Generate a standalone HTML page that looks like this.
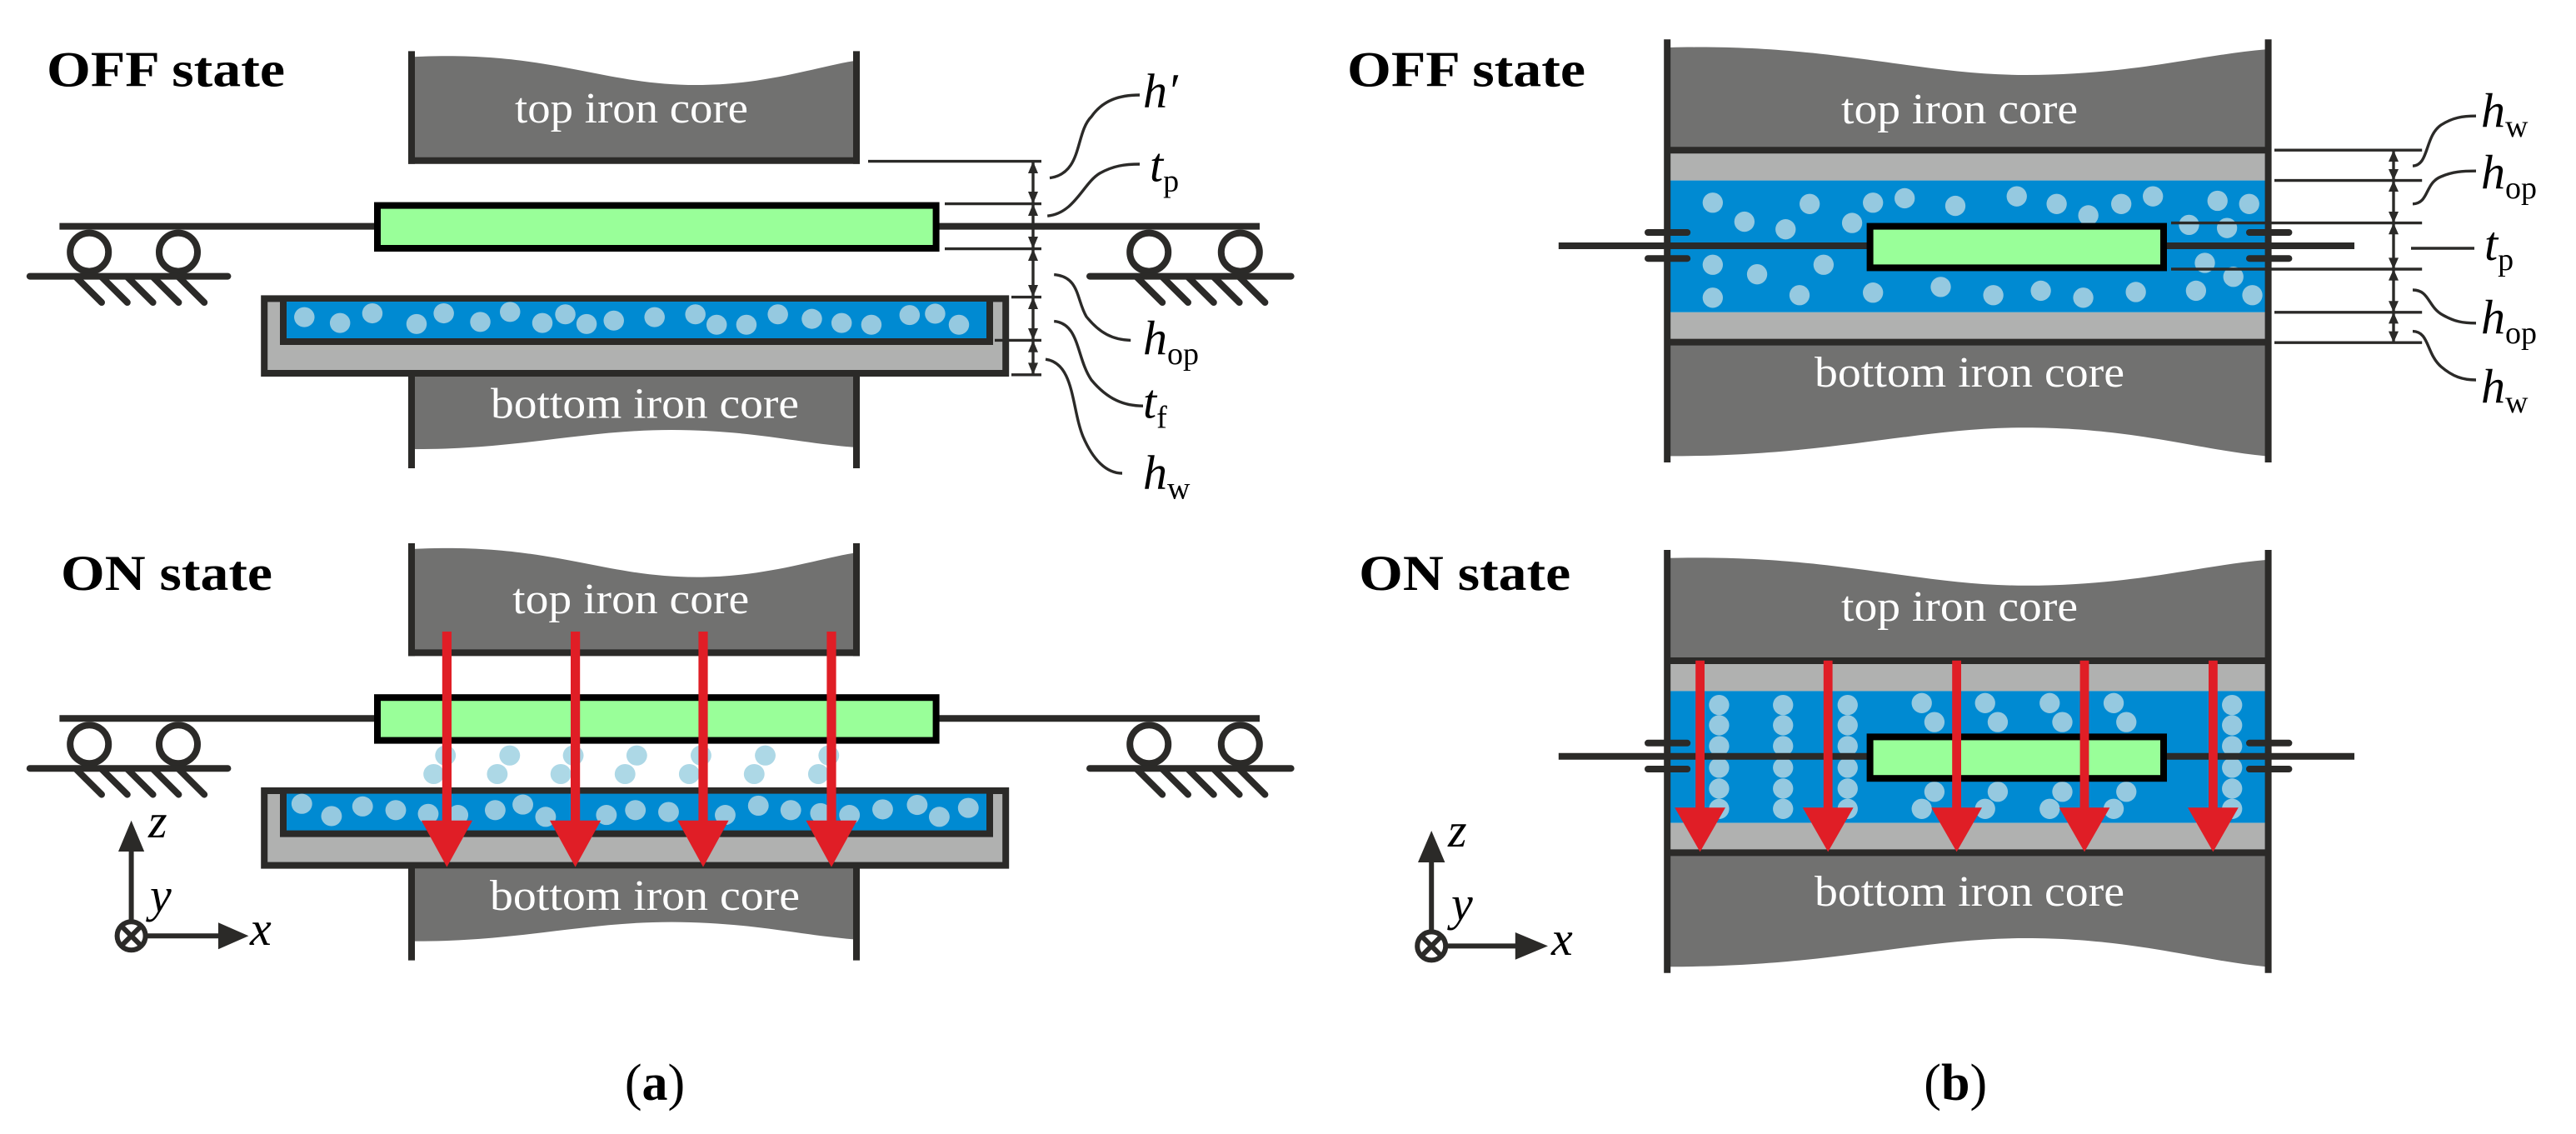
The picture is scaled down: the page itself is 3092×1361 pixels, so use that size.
<!DOCTYPE html>
<html><head><meta charset="utf-8"><style>
html,body{margin:0;padding:0;background:#fff}
svg{display:block}
.lab{font-family:"Liberation Serif",serif;fill:#fff;font-size:26px}
.bold{font-family:"Liberation Serif",serif;font-weight:bold;fill:#000;font-size:30px}
.m{font-family:"Liberation Serif",serif;font-style:italic;fill:#000;font-size:29px}
.s{font-family:"Liberation Serif",serif;font-style:normal;font-size:19px}
</style></head><body>
<svg width="3092" height="1361" viewBox="0 0 1546 680.5" xmlns="http://www.w3.org/2000/svg">
<defs>
<g id="astruct">
 <path d="M247,34.2 C330,30 360,51 418,51 C460,51 490,40 514,36.3 L514,96 L247,96 Z" fill="#717170"/>
 <line x1="247" y1="30.7" x2="247" y2="98.4" stroke="#2b2a28" stroke-width="4"/>
 <line x1="514" y1="30.7" x2="514" y2="98.4" stroke="#2b2a28" stroke-width="4"/>
 <line x1="245" y1="96.4" x2="516" y2="96.4" stroke="#2b2a28" stroke-width="4"/>
 <line x1="35.7" y1="135.8" x2="756" y2="135.8" stroke="#2b2a28" stroke-width="4"/>
 <rect x="226.5" y="123.3" width="335.3" height="25.7" fill="#99ff99" stroke="#000" stroke-width="4"/>
 <g fill="#fff" stroke="#2b2a28" stroke-width="4">
  <circle cx="53.6" cy="151.3" r="11.5"/><circle cx="107" cy="151.3" r="11.5"/>
  <circle cx="689.6" cy="151.3" r="11.5"/><circle cx="744.4" cy="151.3" r="11.5"/>
 </g>
 <g stroke="#2b2a28" stroke-width="4" stroke-linecap="round">
  <line x1="17.9" y1="165.8" x2="136.7" y2="165.8"/><line x1="654" y1="165.8" x2="774.8" y2="165.8"/>
  <line x1="45.4" y1="166" x2="61" y2="181.5"/><line x1="60.8" y1="166" x2="76.4" y2="181.5"/>
  <line x1="76.2" y1="166" x2="91.8" y2="181.5"/><line x1="91.6" y1="166" x2="107.2" y2="181.5"/>
  <line x1="107" y1="166" x2="122.6" y2="181.5"/>
  <line x1="682" y1="166" x2="697.6" y2="181.5"/><line x1="697.4" y1="166" x2="713" y2="181.5"/>
  <line x1="712.8" y1="166" x2="728.4" y2="181.5"/><line x1="728.2" y1="166" x2="743.8" y2="181.5"/>
  <line x1="743.6" y1="166" x2="759.2" y2="181.5"/>
 </g>
 <rect x="158.6" y="179.2" width="445" height="44.8" fill="#b0b1b0" stroke="#2b2a28" stroke-width="4"/>
 <rect x="172" y="181" width="420" height="22.5" fill="#008ad2"/>
 <path d="M170,179 L170,205 L594,205 L594,179" fill="none" stroke="#2b2a28" stroke-width="4"/>
 <path d="M247,226 L514,226 L514,268.5 C480,266 450,258 403,258 C350,258 310,270 247,269.5 Z" fill="#717170"/>
 <line x1="247" y1="224" x2="247" y2="281" stroke="#2b2a28" stroke-width="4"/>
 <line x1="514" y1="224" x2="514" y2="281" stroke="#2b2a28" stroke-width="4"/>
</g>
<g id="bbg">
 <path d="M1002,28.5 C1100,26 1150,45 1216,45 C1280,45 1320,33 1360,29.6 L1360,92 L1002,92 Z" fill="#717170"/>
 <rect x="1002" y="92" width="358" height="16.3" fill="#b0b1b0"/>
 <rect x="1002" y="108.3" width="358" height="79.1" fill="#008ad2"/>
 <rect x="1002" y="187.4" width="358" height="16" fill="#b0b1b0"/>
 <path d="M1002,205 L1360,205 L1360,273.7 C1320,270 1280,256.6 1216,256.6 C1150,256.6 1100,273.7 1002,273.7 Z" fill="#717170"/>
 <line x1="1000.6" y1="90.1" x2="1361.3" y2="90.1" stroke="#2b2a28" stroke-width="4"/>
 <line x1="1000.6" y1="205.3" x2="1361.3" y2="205.3" stroke="#2b2a28" stroke-width="4"/>
 <line x1="1000.6" y1="23.6" x2="1000.6" y2="277.5" stroke="#2b2a28" stroke-width="4"/>
 <line x1="1361.3" y1="23.6" x2="1361.3" y2="277.5" stroke="#2b2a28" stroke-width="4"/>
</g>
<g id="bfg">
 <line x1="935.4" y1="147.5" x2="1413" y2="147.5" stroke="#2b2a28" stroke-width="4"/>
 <rect x="1122.3" y="135.8" width="176.2" height="24.9" fill="#99ff99" stroke="#000" stroke-width="4"/>
 <g stroke="#2b2a28" stroke-width="4" stroke-linecap="round">
  <line x1="989" y1="139.5" x2="1012.6" y2="139.5"/><line x1="989" y1="155.1" x2="1012.6" y2="155.1"/>
  <line x1="1350" y1="139.5" x2="1373.7" y2="139.5"/><line x1="1350" y1="155.1" x2="1373.7" y2="155.1"/>
 </g>
</g>
</defs>

<!-- (a) OFF -->
<use href="#astruct"/>
<g transform="scale(0.5102,0.2073)" fill="#95c9e0">
<ellipse cx="358" cy="918" rx="12" ry="29"/><ellipse cx="400" cy="935" rx="12" ry="29"/><ellipse cx="438" cy="907" rx="12" ry="29"/><ellipse cx="490" cy="938" rx="12" ry="29"/><ellipse cx="522" cy="907" rx="12" ry="29"/><ellipse cx="565" cy="932" rx="12" ry="29"/><ellipse cx="600" cy="903" rx="12" ry="29"/><ellipse cx="638" cy="935" rx="12" ry="29"/><ellipse cx="665" cy="910" rx="12" ry="29"/><ellipse cx="690" cy="938" rx="12" ry="29"/><ellipse cx="722" cy="928" rx="12" ry="29"/><ellipse cx="770" cy="918" rx="12" ry="29"/><ellipse cx="818" cy="910" rx="12" ry="29"/><ellipse cx="843" cy="940" rx="12" ry="29"/><ellipse cx="878" cy="940" rx="12" ry="29"/><ellipse cx="915" cy="910" rx="12" ry="29"/><ellipse cx="955" cy="923" rx="12" ry="29"/><ellipse cx="990" cy="935" rx="12" ry="29"/><ellipse cx="1025" cy="940" rx="12" ry="29"/><ellipse cx="1070" cy="912" rx="12" ry="29"/><ellipse cx="1100" cy="908" rx="12" ry="29"/><ellipse cx="1128" cy="940" rx="12" ry="29"/>
</g>
<text class="lab" x="379" y="73.6" text-anchor="middle" textLength="140" lengthAdjust="spacingAndGlyphs">top iron core</text>
<text class="lab" x="387" y="250.8" text-anchor="middle" textLength="185" lengthAdjust="spacingAndGlyphs">bottom iron core</text>
<text class="bold" x="28" y="51.8" textLength="143" lengthAdjust="spacingAndGlyphs">OFF state</text>
<!-- dims a -->
<g stroke="#2b2a28" stroke-width="1.7" fill="none">
 <line x1="521" y1="96.8" x2="625" y2="96.8"/>
 <line x1="567" y1="122.3" x2="625" y2="122.3"/>
 <line x1="567" y1="149.3" x2="625" y2="149.3"/>
 <line x1="607" y1="178.3" x2="625" y2="178.3"/>
 <line x1="597" y1="204.2" x2="625" y2="204.2"/>
 <line x1="607" y1="224.9" x2="625" y2="224.9"/>
 <line x1="620" y1="96.8" x2="620" y2="224.9"/>
 <path d="M630,106.8 C650,104 645,80 655,70 C662,60 672,57 684,57"/>
 <path d="M628.6,129.6 C645,128 650,110 660,104 C668,99.5 675,98.5 684,98.5"/>
 <path d="M632.6,164.8 C648,166 646,180 652,190 C660,200 668,204 678.6,204.2"/>
 <path d="M632.6,192.8 C648,194 646,215 655,228 C665,240 675,243.6 686,243.6"/>
 <path d="M627.5,215.6 C645,218 643,245 650,262 C656,276 664,284 673.5,284"/>
</g>
<g fill="#2b2a28">
 <polygon points="617,104 623,104 620,96.8"/><polygon points="617,115 623,115 620,122.3"/>
 <polygon points="617,129.5 623,129.5 620,122.3"/><polygon points="617,142 623,142 620,149.3"/>
 <polygon points="617,156.5 623,156.5 620,149.3"/><polygon points="617,171 623,171 620,178.3"/>
 <polygon points="617,185.5 623,185.5 620,178.3"/><polygon points="617,197 623,197 620,204.2"/>
 <polygon points="617,211.4 623,211.4 620,204.2"/><polygon points="617,217.7 623,217.7 620,224.9"/>
</g>
<text class="m" x="686" y="64.3">h′</text>
<text class="m" x="690" y="108.8">t<tspan class="s" dy="6">p</tspan></text>
<text class="m" x="686" y="212.5">h<tspan class="s" dy="6">op</tspan></text>
<text class="m" x="686" y="250.8">t<tspan class="s" dy="6">f</tspan></text>
<text class="m" x="686" y="293.3">h<tspan class="s" dy="6">w</tspan></text>

<!-- (a) ON -->
<use href="#astruct" transform="translate(0,295.3)"/>
<g transform="translate(0,325) scale(0.4145,0.2232)">
 <g fill="#95c9e0">
 <ellipse cx="437" cy="705" rx="15" ry="27"/><ellipse cx="480" cy="738" rx="15" ry="27"/><ellipse cx="525" cy="712" rx="15" ry="27"/><ellipse cx="573" cy="722" rx="15" ry="27"/><ellipse cx="620" cy="732" rx="15" ry="27"/><ellipse cx="663" cy="735" rx="15" ry="27"/><ellipse cx="717" cy="722" rx="15" ry="27"/><ellipse cx="757" cy="707" rx="15" ry="27"/><ellipse cx="790" cy="740" rx="15" ry="27"/><ellipse cx="878" cy="735" rx="15" ry="27"/><ellipse cx="920" cy="722" rx="15" ry="27"/><ellipse cx="968" cy="727" rx="15" ry="27"/><ellipse cx="1050" cy="735" rx="15" ry="27"/><ellipse cx="1098" cy="710" rx="15" ry="27"/><ellipse cx="1145" cy="722" rx="15" ry="27"/><ellipse cx="1188" cy="730" rx="15" ry="27"/><ellipse cx="1230" cy="735" rx="15" ry="27"/><ellipse cx="1278" cy="720" rx="15" ry="27"/><ellipse cx="1328" cy="708" rx="15" ry="27"/><ellipse cx="1360" cy="740" rx="15" ry="27"/><ellipse cx="1402" cy="716" rx="15" ry="27"/>
 </g>
 <g fill="#add8e6">
 <ellipse cx="645" cy="575" rx="15" ry="27"/><ellipse cx="628" cy="625" rx="15" ry="27"/><ellipse cx="738" cy="575" rx="15" ry="27"/><ellipse cx="720" cy="625" rx="15" ry="27"/><ellipse cx="830" cy="575" rx="15" ry="27"/><ellipse cx="812" cy="625" rx="15" ry="27"/><ellipse cx="922" cy="575" rx="15" ry="27"/><ellipse cx="905" cy="625" rx="15" ry="27"/><ellipse cx="1015" cy="575" rx="15" ry="27"/><ellipse cx="998" cy="625" rx="15" ry="27"/><ellipse cx="1108" cy="575" rx="15" ry="27"/><ellipse cx="1092" cy="625" rx="15" ry="27"/><ellipse cx="1200" cy="575" rx="15" ry="27"/><ellipse cx="1185" cy="625" rx="15" ry="27"/>
 </g>
</g>
<g fill="#e01e26">
 <rect x="265.4" y="379" width="5.6" height="114"/><polygon points="252.9,492.4 283.5,492.4 268.2,520.3"/>
 <rect x="342.5" y="379" width="5.6" height="114"/><polygon points="330,492.4 360.6,492.4 345.3,520.3"/>
 <rect x="419.2" y="379" width="5.6" height="114"/><polygon points="406.7,492.4 437.3,492.4 422,520.3"/>
 <rect x="496.2" y="379" width="5.6" height="114"/><polygon points="483.7,492.4 514.3,492.4 499,520.3"/>
</g>
<text class="lab" x="378.6" y="368" text-anchor="middle" textLength="142" lengthAdjust="spacingAndGlyphs">top iron core</text>
<text class="lab" x="387" y="546" text-anchor="middle" textLength="186" lengthAdjust="spacingAndGlyphs">bottom iron core</text>
<text class="bold" x="36.5" y="354" textLength="127" lengthAdjust="spacingAndGlyphs">ON state</text>
<!-- axes a -->
<g stroke="#2b2a28" stroke-width="3" fill="none">
 <line x1="78.8" y1="552" x2="78.8" y2="508"/>
 <line x1="88" y1="561.6" x2="133" y2="561.6"/>
 <circle cx="78.8" cy="561.6" r="8.5" fill="#fff"/>
 <line x1="72.8" y1="555.6" x2="84.8" y2="567.6"/><line x1="84.8" y1="555.6" x2="72.8" y2="567.6"/>
</g>
<g fill="#2b2a28"><polygon points="71,511 86.6,511 78.8,492.4"/><polygon points="131,553.6 131,569.6 149.2,561.6"/></g>
<text class="m" x="89" y="502.5" font-size="26">z</text>
<text class="m" x="90" y="547" font-size="26">y</text>
<text class="m" x="150" y="567" font-size="26">x</text>

<!-- (b) OFF -->
<use href="#bbg"/>
<g transform="translate(950,0) scale(0.3801)" fill="#95c9e0">
<circle cx="205" cy="320" r="16"/><circle cx="255" cy="350" r="16"/><circle cx="320" cy="362" r="16"/><circle cx="358" cy="322" r="16"/><circle cx="425" cy="352" r="16"/><circle cx="458" cy="320" r="16"/><circle cx="508" cy="313" r="16"/><circle cx="588" cy="325" r="16"/><circle cx="685" cy="310" r="16"/><circle cx="748" cy="322" r="16"/><circle cx="798" cy="340" r="16"/><circle cx="850" cy="322" r="16"/><circle cx="900" cy="310" r="16"/><circle cx="957" cy="355" r="16"/><circle cx="1002" cy="317" r="16"/><circle cx="1052" cy="322" r="16"/><circle cx="1017" cy="360" r="16"/><circle cx="205" cy="418" r="16"/><circle cx="275" cy="433" r="16"/><circle cx="380" cy="418" r="16"/><circle cx="205" cy="470" r="16"/><circle cx="342" cy="466" r="16"/><circle cx="458" cy="462" r="16"/><circle cx="565" cy="453" r="16"/><circle cx="648" cy="466" r="16"/><circle cx="723" cy="459" r="16"/><circle cx="790" cy="470" r="16"/><circle cx="873" cy="461" r="16"/><circle cx="968" cy="459" r="16"/><circle cx="982" cy="415" r="16"/><circle cx="1027" cy="437" r="16"/><circle cx="1057" cy="466" r="16"/>
</g>
<use href="#bfg"/>
<text class="lab" x="1176" y="74.1" text-anchor="middle" textLength="142" lengthAdjust="spacingAndGlyphs">top iron core</text>
<text class="lab" x="1182" y="231.9" text-anchor="middle" textLength="186" lengthAdjust="spacingAndGlyphs">bottom iron core</text>
<text class="bold" x="808.5" y="51.8" textLength="143" lengthAdjust="spacingAndGlyphs">OFF state</text>
<g stroke="#2b2a28" stroke-width="1.7" fill="none">
 <line x1="1365" y1="90.1" x2="1453.6" y2="90.1"/>
 <line x1="1365" y1="108.3" x2="1453.6" y2="108.3"/>
 <line x1="1303" y1="133.8" x2="1453.6" y2="133.8"/>
 <line x1="1303" y1="161.5" x2="1453.6" y2="161.5"/>
 <line x1="1365" y1="187.4" x2="1453.6" y2="187.4"/>
 <line x1="1365" y1="205.6" x2="1453.6" y2="205.6"/>
 <line x1="1436.5" y1="90.1" x2="1436.5" y2="205.6"/>
 <path d="M1448,99.6 C1458,99 1455,82 1465,75 C1472,70.5 1478,69.6 1486,69.6"/>
 <path d="M1448,122.4 C1458,122 1455,110 1465,106 C1472,103 1478,102.6 1486,102.6"/>
 <line x1="1447" y1="149" x2="1485" y2="149"/>
 <path d="M1448,174 C1458,174 1457,184 1466,189 C1473,193 1478,193.9 1486,193.9"/>
 <path d="M1448,198.8 C1458,199 1456,212 1465,220 C1472,226 1478,228 1486,228"/>
</g>
<g fill="#2b2a28">
 <polygon points="1433.5,97 1439.5,97 1436.5,90.1"/><polygon points="1433.5,101.5 1439.5,101.5 1436.5,108.3"/>
 <polygon points="1433.5,115 1439.5,115 1436.5,108.3"/><polygon points="1433.5,127 1439.5,127 1436.5,133.8"/>
 <polygon points="1433.5,140.6 1439.5,140.6 1436.5,133.8"/><polygon points="1433.5,154.7 1439.5,154.7 1436.5,161.5"/>
 <polygon points="1433.5,168.3 1439.5,168.3 1436.5,161.5"/><polygon points="1433.5,180.6 1439.5,180.6 1436.5,187.4"/>
 <polygon points="1433.5,194.2 1439.5,194.2 1436.5,187.4"/><polygon points="1433.5,198.8 1439.5,198.8 1436.5,205.6"/>
</g>
<text class="m" x="1489" y="76">h<tspan class="s" dy="6">w</tspan></text>
<text class="m" x="1489" y="113">h<tspan class="s" dy="6">op</tspan></text>
<text class="m" x="1491" y="156">t<tspan class="s" dy="6">p</tspan></text>
<text class="m" x="1489" y="200">h<tspan class="s" dy="6">op</tspan></text>
<text class="m" x="1489" y="241.4">h<tspan class="s" dy="6">w</tspan></text>

<!-- (b) ON -->
<use href="#bbg" transform="translate(0,306.4)"/>
<g transform="translate(950,0) scale(0.3801)" fill="#95c9e0">
 <circle cx="215" cy="1113" r="16"/><circle cx="215" cy="1145" r="16"/><circle cx="215" cy="1178" r="16"/><circle cx="215" cy="1212" r="16"/><circle cx="215" cy="1245" r="16"/><circle cx="215" cy="1277" r="16"/>
 <circle cx="316" cy="1113" r="16"/><circle cx="316" cy="1145" r="16"/><circle cx="316" cy="1178" r="16"/><circle cx="316" cy="1212" r="16"/><circle cx="316" cy="1245" r="16"/><circle cx="316" cy="1277" r="16"/>
 <circle cx="418" cy="1113" r="16"/><circle cx="418" cy="1145" r="16"/><circle cx="418" cy="1178" r="16"/><circle cx="418" cy="1212" r="16"/><circle cx="418" cy="1245" r="16"/><circle cx="418" cy="1277" r="16"/>
 <circle cx="1025" cy="1113" r="16"/><circle cx="1025" cy="1145" r="16"/><circle cx="1025" cy="1178" r="16"/><circle cx="1025" cy="1212" r="16"/><circle cx="1025" cy="1245" r="16"/><circle cx="1025" cy="1277" r="16"/>
 <circle cx="535" cy="1110" r="16"/><circle cx="555" cy="1140" r="16"/><circle cx="555" cy="1250" r="16"/><circle cx="535" cy="1277" r="16"/>
 <circle cx="635" cy="1110" r="16"/><circle cx="655" cy="1140" r="16"/><circle cx="655" cy="1250" r="16"/><circle cx="635" cy="1277" r="16"/>
 <circle cx="737" cy="1110" r="16"/><circle cx="757" cy="1140" r="16"/><circle cx="757" cy="1250" r="16"/><circle cx="737" cy="1277" r="16"/>
 <circle cx="838" cy="1110" r="16"/><circle cx="858" cy="1140" r="16"/><circle cx="858" cy="1250" r="16"/><circle cx="838" cy="1277" r="16"/>
</g>
<use href="#bfg" transform="translate(0,306.4)"/>
<g fill="#e01e26">
 <rect x="1017.6" y="396.4" width="5.4" height="89"/><polygon points="1005.1,484.6 1035.5,484.6 1020.3,511.2"/>
 <rect x="1094.4" y="396.4" width="5.4" height="89"/><polygon points="1081.9,484.6 1112.3,484.6 1097.1,511.2"/>
 <rect x="1171.6" y="396.4" width="5.4" height="89"/><polygon points="1159.1,484.6 1189.5,484.6 1174.3,511.2"/>
 <rect x="1248.3" y="396.4" width="5.4" height="89"/><polygon points="1235.8,484.6 1266.2,484.6 1251,511.2"/>
 <rect x="1325.5" y="396.4" width="5.4" height="89"/><polygon points="1313,484.6 1343.4,484.6 1328.2,511.2"/>
</g>
<text class="lab" x="1176" y="372.5" text-anchor="middle" textLength="142" lengthAdjust="spacingAndGlyphs">top iron core</text>
<text class="lab" x="1182" y="543.5" text-anchor="middle" textLength="186" lengthAdjust="spacingAndGlyphs">bottom iron core</text>
<text class="bold" x="815.6" y="354" textLength="127" lengthAdjust="spacingAndGlyphs">ON state</text>
<g stroke="#2b2a28" stroke-width="3" fill="none">
 <line x1="859.1" y1="558" x2="859.1" y2="515"/>
 <line x1="868" y1="567.7" x2="911" y2="567.7"/>
 <circle cx="859.1" cy="567.7" r="8.5" fill="#fff"/>
 <line x1="853.1" y1="561.7" x2="865.1" y2="573.7"/><line x1="865.1" y1="561.7" x2="853.1" y2="573.7"/>
</g>
<g fill="#2b2a28"><polygon points="851,517.5 867.2,517.5 859.1,498.5"/><polygon points="909.4,559.5 909.4,575.9 929,567.7"/></g>
<text class="m" x="869" y="508" font-size="26">z</text>
<text class="m" x="871" y="552" font-size="26">y</text>
<text class="m" x="931" y="573" font-size="26">x</text>

<text x="393" y="660" text-anchor="middle" font-family="Liberation Serif, serif" font-size="31" fill="#000">(<tspan font-weight="bold">a</tspan>)</text>
<text x="1173.6" y="660" text-anchor="middle" font-family="Liberation Serif, serif" font-size="31" fill="#000">(<tspan font-weight="bold">b</tspan>)</text>
</svg>
</body></html>
